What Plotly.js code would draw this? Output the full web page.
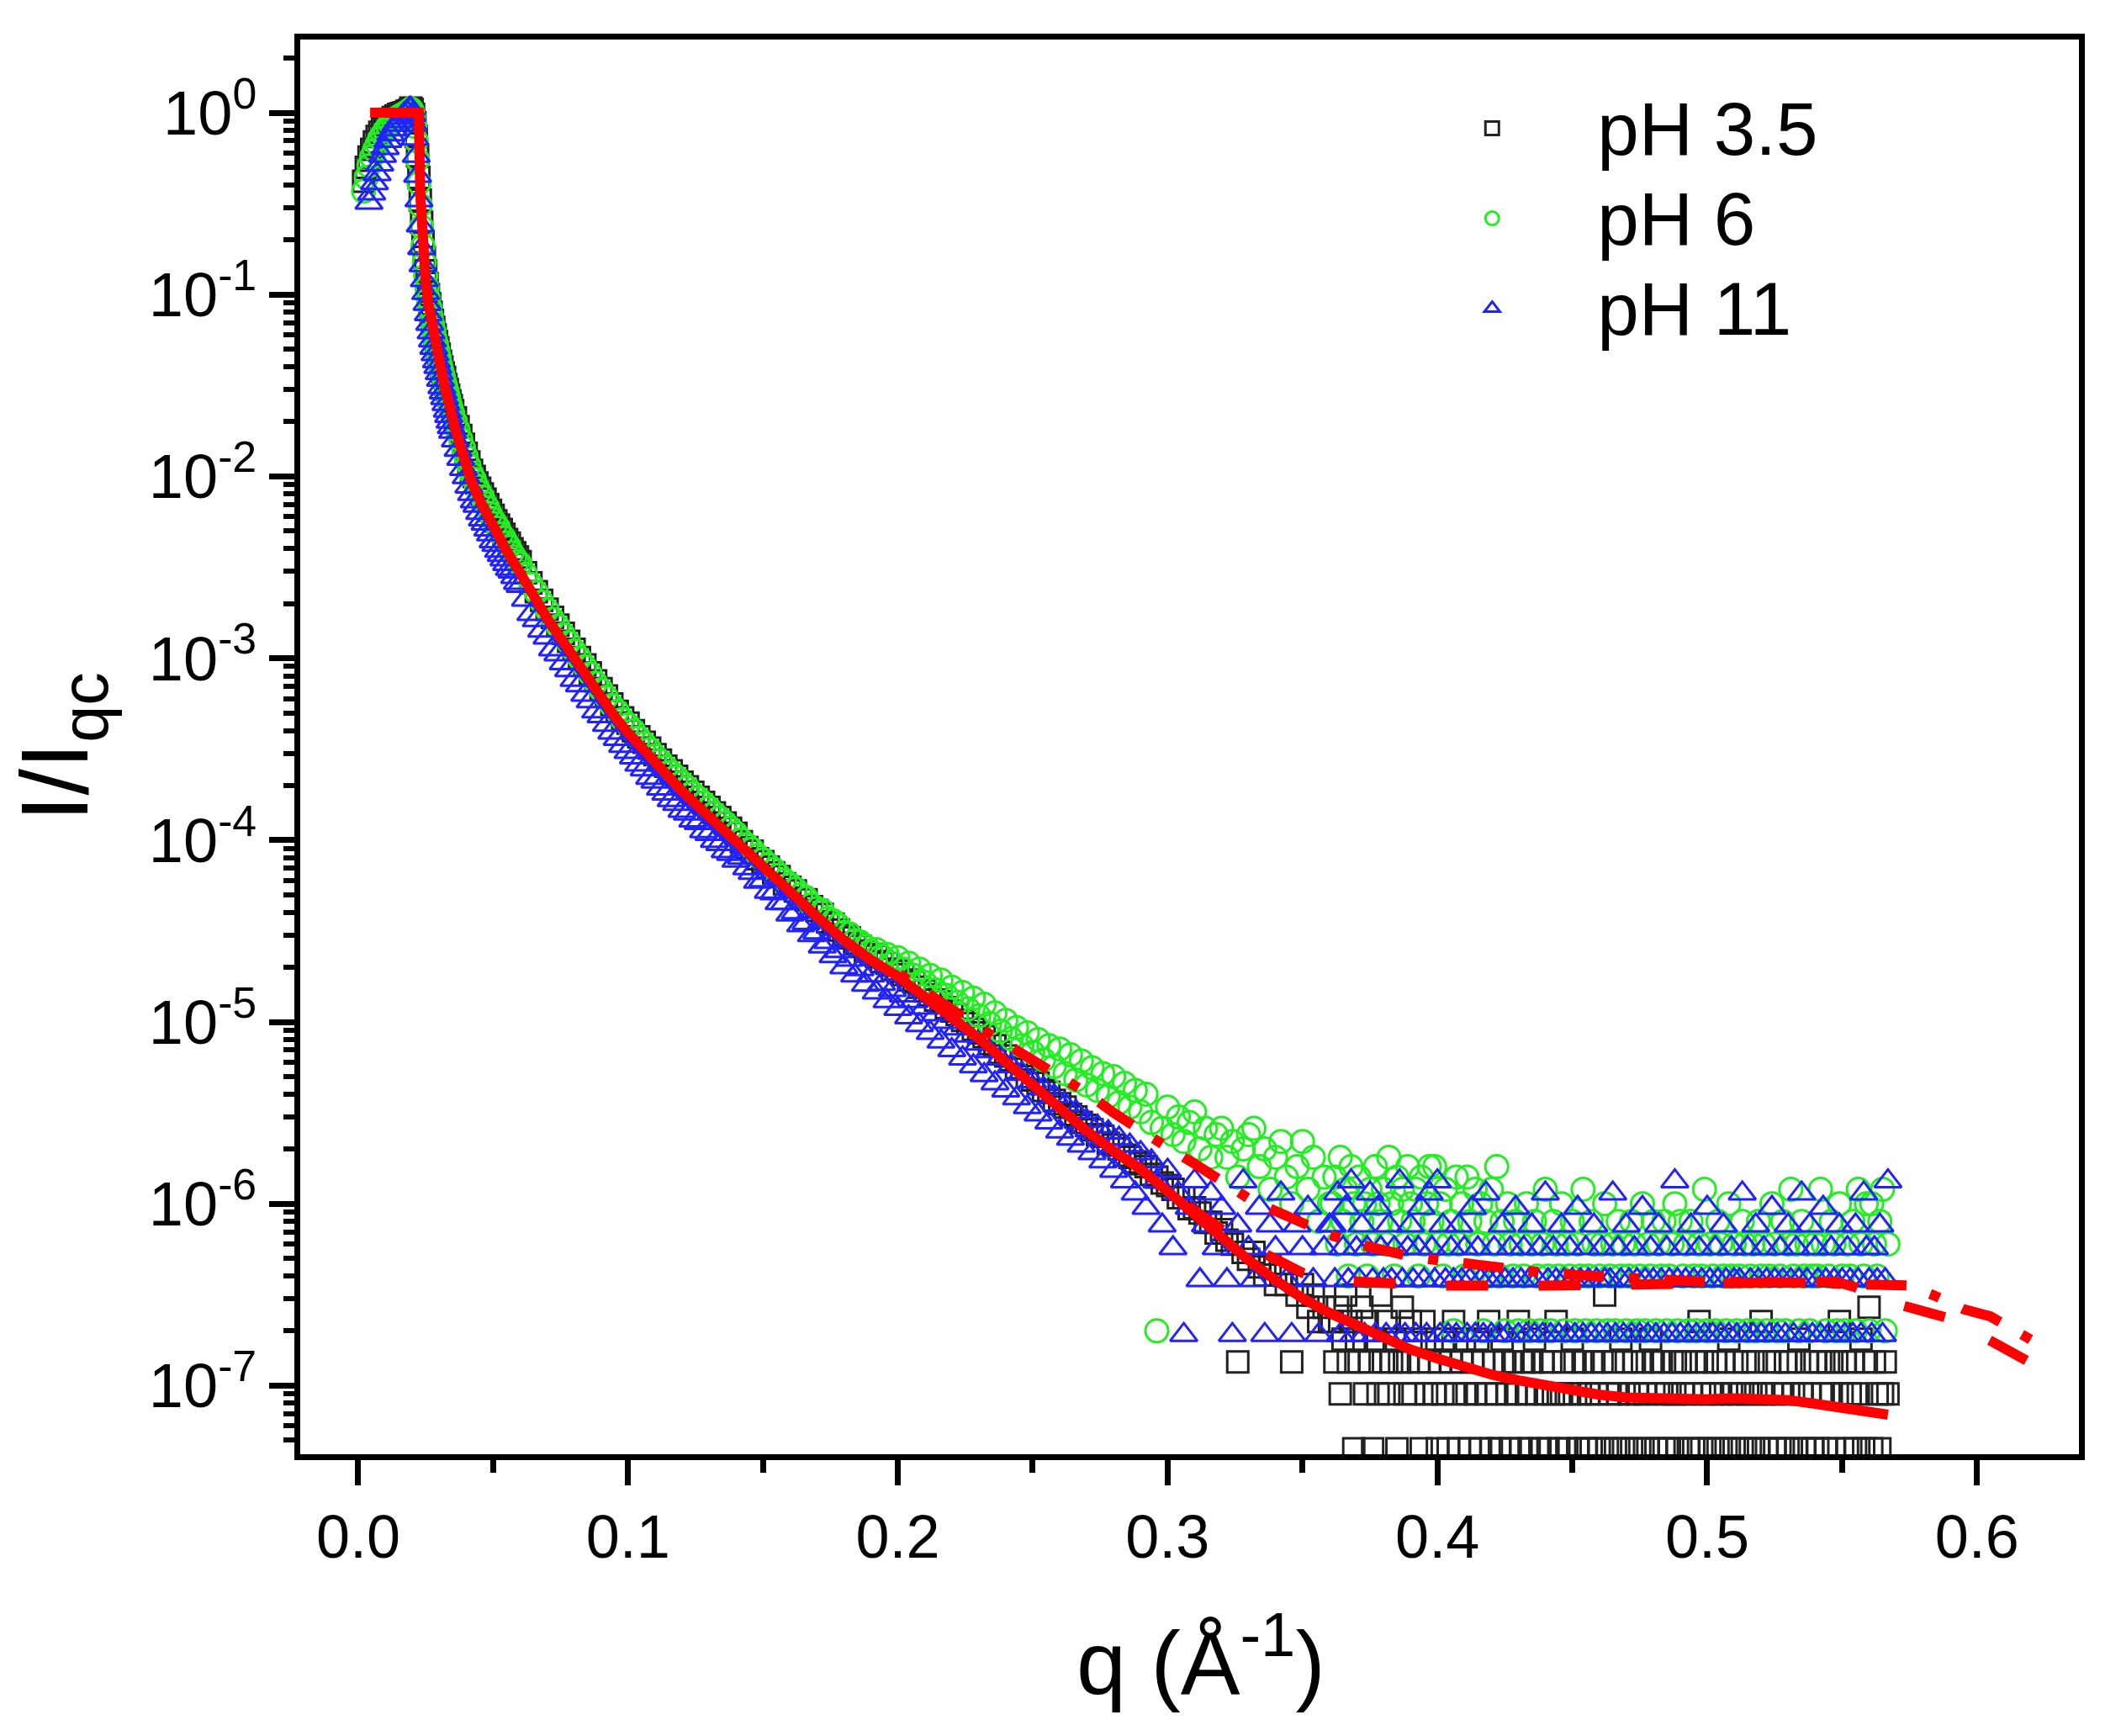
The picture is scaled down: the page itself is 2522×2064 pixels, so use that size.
<!DOCTYPE html>
<html>
<head>
<meta charset="utf-8">
<script src="https://cdn.plot.ly/plotly-3.0.1.min.js"></script>
<style>
  html, body { margin: 0; padding: 0; background: #fff; }
  #plot { width: 2522px; height: 2064px; }
</style>
</head>
<body>
<div id="plot"></div>
<script>
  const FONT = "Arial, 'Liberation Sans', sans-serif";

  // q grid (1/Å)
  const qLow = [0.002,0.003,0.004,0.005,0.006,0.007,0.008,0.009,0.010,0.011,0.012,0.013,0.014,0.015,0.016,0.017,0.018,0.019,
    0.0195,0.020,0.0205,0.021,0.0215,0.022,0.0225,0.023,0.0235,0.024,0.0245,0.025,0.0255,0.026,0.0265,0.027,0.0275,0.028,0.0285,0.029,0.0295,0.030,0.0305,0.031,0.0315,0.032,0.0325,0.033,0.0335,0.034,0.0345,0.035,
    0.036,0.037,0.038,0.039,0.040,0.041,0.042,0.043,0.044,0.045,0.046,0.047,0.048,0.049,0.050,0.051,0.052,0.053,0.054,0.055,0.056,0.057,0.058,0.059,0.060,
    0.062,0.064,0.066,0.068,0.070,0.072,0.074,0.076,0.078,0.080,0.082,0.084,0.086,0.088,0.090,0.092,0.094,0.096,0.098,0.100,
    0.102,0.104,0.106,0.108,0.110,0.112,0.114,0.116,0.118,0.120,0.122,0.124,0.126,0.128,0.130,0.132,0.134,0.136,0.138,0.140];
  const qMid = [0.142,0.144,0.146,0.148,0.150,0.152,0.154,0.156,0.158,0.160,
    0.162,0.164,0.166,0.168,0.170,0.172,0.174,0.176,0.178,0.180,
    0.182,0.184,0.186,0.188,0.190,0.192,0.194,0.196,0.198,0.200,
    0.202,0.204,0.206,0.208,0.210,0.212,0.214,0.216,0.218,0.220,
    0.222,0.224,0.226,0.228,0.230,0.232,0.234,0.236,0.238,0.240,
    0.242,0.244,0.246,0.248,0.250,0.252,0.254,0.256,0.258,0.260,
    0.262,0.264,0.266,0.268,0.270,0.272,0.274,0.276,0.278,0.280,
    0.282,0.284,0.286,0.288,0.290,0.292,0.294,0.296,0.298,0.300,
    0.302,0.304,0.306,0.308,0.310,0.312,0.314,0.316,0.318,0.320,
    0.322,0.324,0.326,0.328,0.330,0.332,0.334,0.336,0.338,0.340,
    0.342,0.344,0.346,0.348,0.350,0.352,0.354,0.356,0.358,0.360];
  const qTail = [0.361,0.362,0.363,0.364,0.365,0.366,0.367,0.368,0.369,0.370,
    0.371,0.372,0.373,0.374,0.375,0.376,0.377,0.378,0.379,0.380,
    0.381,0.382,0.383,0.384,0.385,0.386,0.387,0.388,0.389,0.390,
    0.391,0.392,0.393,0.394,0.395,0.396,0.397,0.398,0.399,0.400,
    0.401,0.402,0.403,0.404,0.405,0.406,0.407,0.408,0.409,0.410,
    0.411,0.412,0.413,0.414,0.415,0.416,0.417,0.418,0.419,0.420,
    0.421,0.422,0.423,0.424,0.425,0.426,0.427,0.428,0.429,0.430,
    0.431,0.432,0.433,0.434,0.435,0.436,0.437,0.438,0.439,0.440,
    0.441,0.442,0.443,0.444,0.445,0.446,0.447,0.448,0.449,0.450,
    0.451,0.452,0.453,0.454,0.455,0.456,0.457,0.458,0.459,0.460,
    0.461,0.462,0.463,0.464,0.465,0.466,0.467,0.468,0.469,0.470,
    0.471,0.472,0.473,0.474,0.475,0.476,0.477,0.478,0.479,0.480,
    0.481,0.482,0.483,0.484,0.485,0.486,0.487,0.488,0.489,0.490,
    0.491,0.492,0.493,0.494,0.495,0.496,0.497,0.498,0.499,0.500,
    0.501,0.502,0.503,0.504,0.505,0.506,0.507,0.508,0.509,0.510,
    0.511,0.512,0.513,0.514,0.515,0.516,0.517,0.518,0.519,0.520,
    0.521,0.522,0.523,0.524,0.525,0.526,0.527,0.528,0.529,0.530,
    0.531,0.532,0.533,0.534,0.535,0.536,0.537,0.538,0.539,0.540,
    0.541,0.542,0.543,0.544,0.545,0.546,0.547,0.548,0.549,0.550,
    0.551,0.552,0.553,0.554,0.555,0.556,0.557,0.558,0.559,0.560,
    0.561,0.562,0.563,0.564,0.565,0.566,0.567];

  // pH 3.5 (black squares)
  const ph35Low = [0.42,0.50,0.57,0.63,0.69,0.74,0.78,0.82,0.86,0.89,0.92,0.94,0.96,0.98,0.99,1.0,1.02,1.03,
    1.06,1.04,0.98,0.88,0.74,0.58,0.44,0.33,0.25,0.195,0.16,0.135,0.115,0.10,0.089,0.080,0.072,0.066,0.060,0.055,0.051,0.047,0.043,0.040,0.037,0.035,0.032,0.030,0.028,0.026,0.0245,0.023,
    0.021,0.0188,0.0168,0.0150,0.0134,0.0120,0.0108,0.0100,0.0092,0.0086,0.0080,0.0075,0.0070,0.0065,0.0061,0.0057,0.0054,0.0051,0.0048,0.0045,0.0043,0.0040,0.0038,0.0036,0.0034,
    2.95e-3,2.60e-3,2.32e-3,2.08e-3,1.86e-3,1.68e-3,1.52e-3,1.37e-3,1.24e-3,1.12e-3,1.01e-3,9.2e-4,8.3e-4,7.5e-4,6.8e-4,6.2e-4,5.6e-4,5.1e-4,4.7e-4,4.4e-4,
    4.0e-4,3.7e-4,3.45e-4,3.2e-4,2.95e-4,2.75e-4,2.55e-4,2.4e-4,2.24e-4,2.08e-4,1.96e-4,1.83e-4,1.72e-4,1.61e-4,1.51e-4,1.41e-4,1.33e-4,1.24e-4,1.16e-4,1.09e-4];
  const ph35Mid = [9.8e-5,9.1e-5,8.7e-5,7.9e-5,7.6e-5,7.1e-5,6.6e-5,6.3e-5,5.75e-5,5.5e-5,
    5.25e-5,4.8e-5,4.7e-5,4.3e-5,4.1e-5,3.9e-5,3.55e-5,3.45e-5,3.2e-5,3.0e-5,
    2.9e-5,2.7e-5,2.6e-5,2.45e-5,2.35e-5,2.3e-5,2.15e-5,2.1e-5,1.95e-5,1.9e-5,
    1.82e-5,1.7e-5,1.66e-5,1.55e-5,1.48e-5,1.41e-5,1.32e-5,1.29e-5,1.2e-5,1.15e-5,
    1.1e-5,1.02e-5,9.8e-6,9.1e-6,8.7e-6,8.3e-6,7.6e-6,7.4e-6,6.8e-6,6.5e-6,
    6.2e-6,5.6e-6,5.5e-6,5.0e-6,4.8e-6,4.6e-6,4.2e-6,4.1e-6,3.7e-6,3.55e-6,
    3.4e-6,3.1e-6,3.0e-6,2.8e-6,2.7e-6,2.55e-6,2.4e-6,2.35e-6,2.15e-6,2.1e-6,
    2.0e-6,1.85e-6,1.8e-6,1.7e-6,1.66e-6,1.6e-6,1.45e-6,1.4e-6,1.3e-6,1.26e-6,
    1.2e-6,1.08e-6,1.08e-6,9.4e-7,9.5e-7,8.9e-7,7.9e-7,7.9e-7,6.9e-7,7.2e-7,
    6.3e-7,6.0e-7,1.35e-7,5.4e-7,4.95e-7,5.4e-7,4.5e-7,4.05e-7,4.5e-7,3.6e-7,
    4.05e-7,3.6e-7,1.35e-7,3.15e-7,3.6e-7,2.7e-7,3.15e-7,2.25e-7,2.7e-7,2.25e-7];
  const ph35Tail = [2.25e-7,1.35e-7,2.7e-7,9e-8,1.8e-7,3.15e-7,1.35e-7,2.25e-7,4.5e-8,1.8e-7,
    1.35e-7,2.7e-7,9e-8,2.25e-7,1.35e-7,4.5e-8,1.8e-7,9e-8,3.15e-7,1.35e-7,
    2.25e-7,9e-8,1.35e-7,1.8e-7,4.5e-8,1.35e-7,2.7e-7,9e-8,1.35e-7,2.25e-7,
    9e-8,1.8e-7,1.35e-7,4.5e-8,2.25e-7,9e-8,1.35e-7,1.8e-7,9e-8,4.5e-8,
    1.35e-7,9e-8,1.8e-7,4.5e-8,1.35e-7,2.25e-7,9e-8,4.5e-8,1.35e-7,1.8e-7,
    9e-8,4.5e-8,1.35e-7,9e-8,1.8e-7,4.5e-8,1.35e-7,9e-8,2.25e-7,4.5e-8,
    1.35e-7,9e-8,4.5e-8,1.8e-7,1.35e-7,9e-8,4.5e-8,1.35e-7,9e-8,2.25e-7,
    4.5e-8,1.35e-7,9e-8,4.5e-8,1.35e-7,1.8e-7,9e-8,4.5e-8,1.35e-7,9e-8,
    4.5e-8,1.35e-7,9e-8,2.25e-7,4.5e-8,9e-8,1.35e-7,4.5e-8,9e-8,1.8e-7,
    1.35e-7,4.5e-8,9e-8,1.35e-7,4.5e-8,9e-8,4.5e-8,1.35e-7,9e-8,4.5e-8,
    1.35e-7,3.15e-7,4.5e-8,9e-8,1.35e-7,4.5e-8,9e-8,1.8e-7,4.5e-8,1.35e-7,
    9e-8,4.5e-8,1.35e-7,9e-8,4.5e-8,1.35e-7,9e-8,4.5e-8,1.8e-7,1.35e-7,
    4.5e-8,9e-8,1.35e-7,4.5e-8,9e-8,4.5e-8,1.35e-7,9e-8,4.5e-8,1.35e-7,
    9e-8,1.35e-7,4.5e-8,9e-8,4.5e-8,1.35e-7,2.25e-7,4.5e-8,9e-8,1.35e-7,
    4.5e-8,9e-8,1.35e-7,4.5e-8,9e-8,1.35e-7,4.5e-8,1.8e-7,9e-8,4.5e-8,
    1.35e-7,9e-8,4.5e-8,1.35e-7,9e-8,4.5e-8,1.35e-7,9e-8,4.5e-8,2.25e-7,
    9e-8,4.5e-8,1.35e-7,9e-8,4.5e-8,1.35e-7,4.5e-8,9e-8,1.35e-7,4.5e-8,
    1.35e-7,9e-8,4.5e-8,1.8e-7,9e-8,4.5e-8,1.35e-7,9e-8,4.5e-8,1.35e-7,
    4.5e-8,1.35e-7,9e-8,4.5e-8,1.35e-7,9e-8,4.5e-8,1.35e-7,2.25e-7,9e-8,
    1.35e-7,4.5e-8,9e-8,1.35e-7,4.5e-8,9e-8,1.8e-7,4.5e-8,1.35e-7,2.7e-7,
    4.5e-8,1.35e-7,9e-8,4.5e-8,9e-8,1.35e-7,9e-8];

  // pH 6 (green circles)
  const ph6Low = [0.37,0.44,0.51,0.57,0.62,0.67,0.72,0.76,0.80,0.84,0.87,0.90,0.93,0.95,0.97,0.99,1.01,1.03,
    1.05,1.02,0.95,0.84,0.70,0.55,0.41,0.31,0.235,0.185,0.15,0.127,0.109,0.095,0.085,0.076,0.069,0.063,0.057,0.053,0.049,0.045,0.041,0.038,0.0355,0.033,0.031,0.029,0.027,0.025,0.0235,0.022,
    0.020,0.018,0.0160,0.0143,0.0128,0.0115,0.0103,0.0096,0.0088,0.0082,0.0077,0.0071,0.0067,0.0062,0.0058,0.0055,0.0052,0.0048,0.0046,0.0043,0.0041,0.0038,0.0036,0.0034,0.0033,
    2.90e-3,2.55e-3,2.30e-3,2.04e-3,1.84e-3,1.64e-3,1.50e-3,1.35e-3,1.22e-3,1.10e-3,1.00e-3,9.0e-4,8.2e-4,7.3e-4,6.7e-4,6.1e-4,5.5e-4,5.1e-4,4.6e-4,4.3e-4,
    4.0e-4,3.65e-4,3.4e-4,3.15e-4,2.9e-4,2.72e-4,2.52e-4,2.36e-4,2.22e-4,2.06e-4,1.94e-4,1.80e-4,1.70e-4,1.60e-4,1.50e-4,1.40e-4,1.32e-4,1.24e-4,1.16e-4,1.09e-4];
  const ph6Mid = [1.0e-4,9.4e-5,8.9e-5,8.2e-5,7.8e-5,7.3e-5,6.9e-5,6.4e-5,6.0e-5,5.7e-5,
    5.4e-5,5.0e-5,4.8e-5,4.4e-5,4.2e-5,4.1e-5,3.7e-5,3.6e-5,3.4e-5,3.1e-5,
    3.05e-5,2.8e-5,2.75e-5,2.6e-5,2.45e-5,2.5e-5,2.3e-5,2.35e-5,2.1e-5,2.25e-5,
    1.95e-5,2.1e-5,1.8e-5,1.95e-5,1.65e-5,1.8e-5,1.5e-5,1.7e-5,1.4e-5,1.55e-5,
    1.28e-5,1.45e-5,1.18e-5,1.35e-5,1.08e-5,1.25e-5,9.8e-6,1.12e-5,8.9e-6,1.02e-5,
    8.1e-6,9.3e-6,7.4e-6,8.7e-6,6.8e-6,8.0e-6,6.2e-6,7.4e-6,5.7e-6,7.1e-6,
    5.2e-6,6.6e-6,4.8e-6,6.1e-6,4.5e-6,5.6e-6,4.2e-6,5.2e-6,3.9e-6,5.0e-6,
    3.6e-6,4.6e-6,3.4e-6,4.2e-6,3.2e-6,4.0e-6,2.8e-6,2.0e-7,2.6e-6,3.4e-6,
    2.4e-6,3.0e-6,2.2e-6,2.8e-6,3.2e-6,2.0e-6,2.6e-6,1.8e-6,2.4e-6,2.6e-6,
    1.8e-6,2.2e-6,1.4e-6,2.0e-6,2.4e-6,2.6e-6,1.6e-6,2.0e-6,1.2e-6,1.8e-6,
    2.2e-6,1.4e-6,1.0e-6,1.6e-6,2.2e-6,1.2e-6,1.8e-6,8.0e-7,1.4e-6,1.0e-6];
  const ph6Tail = [1e-6,1.4e-6,6e-7,1.8e-6,8e-7,1.2e-6,4e-7,1.6e-6,1e-6,6e-7,
    1.4e-6,8e-7,1e-6,4e-7,1.2e-6,6e-7,1.6e-6,1e-6,8e-7,1.2e-6,
    6e-7,1.8e-6,1e-6,4e-7,1.4e-6,8e-7,1.2e-6,6e-7,1.6e-6,1e-6,
    8e-7,1.2e-6,4e-7,1.4e-6,6e-7,1e-6,1.6e-6,8e-7,1.6e-6,6e-7,
    1e-6,4e-7,1.2e-6,6e-7,8e-7,2e-7,1.4e-6,6e-7,1e-6,4e-7,
    1.4e-6,8e-7,4e-7,1.2e-6,6e-7,1e-6,2e-7,8e-7,4e-7,1.2e-6,
    6e-7,1.6e-6,4e-7,8e-7,2e-7,1e-6,6e-7,4e-7,8e-7,2e-7,
    6e-7,4e-7,1e-6,2e-7,6e-7,8e-7,4e-7,2e-7,6e-7,1.2e-6,
    4e-7,2e-7,8e-7,6e-7,4e-7,1e-6,2e-7,6e-7,4e-7,8e-7,
    2e-7,6e-7,4e-7,1.2e-6,2e-7,4e-7,8e-7,6e-7,2e-7,4e-7,
    6e-7,1e-6,2e-7,4e-7,6e-7,2e-7,8e-7,4e-7,6e-7,2e-7,
    4e-7,8e-7,6e-7,2e-7,4e-7,1e-6,2e-7,6e-7,4e-7,8e-7,
    2e-7,6e-7,4e-7,8e-7,2e-7,4e-7,6e-7,1e-6,2e-7,8e-7,
    4e-7,6e-7,2e-7,8e-7,4e-7,2e-7,6e-7,4e-7,1.2e-6,2e-7,
    6e-7,4e-7,2e-7,8e-7,6e-7,4e-7,2e-7,1e-6,4e-7,6e-7,
    2e-7,4e-7,8e-7,6e-7,2e-7,4e-7,6e-7,2e-7,8e-7,4e-7,
    6e-7,2e-7,4e-7,1e-6,6e-7,2e-7,4e-7,8e-7,2e-7,6e-7,
    1.2e-6,4e-7,6e-7,2e-7,8e-7,4e-7,6e-7,2e-7,4e-7,6e-7,
    4e-7,1.2e-6,6e-7,2e-7,4e-7,8e-7,6e-7,2e-7,1e-6,4e-7,
    2e-7,6e-7,4e-7,8e-7,2e-7,1.2e-6,6e-7,4e-7,1e-6,2e-7,
    1e-6,6e-7,4e-7,8e-7,1.2e-6,2e-7,6e-7];

  // pH 11 (blue triangles)
  const ph11Low = [null,null,0.32,0.36,0.41,0.46,0.52,0.58,0.64,0.70,0.76,0.81,0.86,0.90,0.94,0.98,1.01,1.05,
    1.05,0.97,0.86,0.72,0.58,0.45,0.33,0.24,0.18,0.145,0.12,0.102,0.089,0.078,0.069,0.062,0.056,0.051,0.047,0.043,0.040,0.037,0.034,0.031,0.029,0.027,0.025,0.023,0.0215,0.020,0.0187,0.0176,
    0.0158,0.0140,0.0125,0.0110,0.0099,0.0088,0.0080,0.0073,0.0069,0.0063,0.0058,0.0055,0.0051,0.0048,0.0044,0.0042,0.0039,0.0037,0.0035,0.0033,0.0031,0.0030,0.0028,0.0026,0.0025,
    2.10e-3,1.75e-3,1.62e-3,1.42e-3,1.30e-3,1.12e-3,1.05e-3,9.4e-4,8.6e-4,7.6e-4,7.1e-4,6.3e-4,5.8e-4,5.1e-4,4.8e-4,4.3e-4,3.9e-4,3.6e-4,3.3e-4,3.05e-4,
    2.85e-4,2.6e-4,2.45e-4,2.2e-4,2.1e-4,1.92e-4,1.80e-4,1.66e-4,1.58e-4,1.45e-4,1.40e-4,1.28e-4,1.24e-4,1.12e-4,1.08e-4,9.9e-5,9.5e-5,8.7e-5,8.4e-5,7.7e-5];
  const ph11Mid = [8.0e-5,7.0e-5,6.6e-5,5.9e-5,6.0e-5,5.2e-5,5.1e-5,4.5e-5,4.5e-5,3.9e-5,
    4.0e-5,3.4e-5,3.5e-5,3.0e-5,3.1e-5,2.6e-5,2.75e-5,2.3e-5,2.45e-5,2.0e-5,
    2.2e-5,1.8e-5,1.95e-5,1.6e-5,1.8e-5,1.45e-5,1.62e-5,1.3e-5,1.5e-5,1.18e-5,
    1.4e-5,1.06e-5,1.3e-5,9.6e-6,1.2e-5,8.7e-6,1.1e-5,7.8e-6,1.0e-5,7.0e-6,
    9.2e-6,6.3e-6,8.4e-6,5.7e-6,7.6e-6,5.1e-6,6.9e-6,4.6e-6,6.3e-6,4.2e-6,
    5.7e-6,3.8e-6,5.2e-6,3.4e-6,4.7e-6,3.1e-6,4.3e-6,2.8e-6,3.9e-6,2.5e-6,
    3.5e-6,2.28e-6,3.2e-6,2.09e-6,2.85e-6,1.9e-6,2.66e-6,1.71e-6,2.47e-6,1.52e-6,
    2.28e-6,1.33e-6,2.09e-6,1.14e-6,1.9e-6,9.5e-7,1.71e-6,1.33e-6,7.6e-7,1.52e-6,
    5.7e-7,1.14e-6,1.9e-7,9.5e-7,1.33e-6,3.8e-7,7.6e-7,1.14e-6,5.7e-7,9.5e-7,
    3.8e-7,1.9e-7,7.6e-7,1.33e-6,5.7e-7,3.8e-7,9.5e-7,1.9e-7,7.6e-7,5.7e-7,
    1.14e-6,3.8e-7,1.9e-7,7.6e-7,5.7e-7,9.5e-7,3.8e-7,1.9e-7,5.7e-7,7.6e-7];
  const ph11Tail = [7.6e-7,3.8e-7,1.14e-6,1.9e-7,5.7e-7,9.5e-7,3.8e-7,1.33e-6,1.9e-7,5.7e-7,
    3.8e-7,7.6e-7,1.9e-7,5.7e-7,1.14e-6,3.8e-7,1.9e-7,9.5e-7,5.7e-7,3.8e-7,
    1.9e-7,7.6e-7,3.8e-7,5.7e-7,1.9e-7,1.33e-6,3.8e-7,1.9e-7,5.7e-7,7.6e-7,
    3.8e-7,1.9e-7,5.7e-7,9.5e-7,3.8e-7,1.9e-7,1.14e-6,5.7e-7,3.8e-7,1.33e-6,
    1.9e-7,7.6e-7,3.8e-7,1.9e-7,5.7e-7,3.8e-7,1.9e-7,7.6e-7,3.8e-7,5.7e-7,
    1.9e-7,3.8e-7,9.5e-7,1.9e-7,5.7e-7,3.8e-7,1.9e-7,1.14e-6,3.8e-7,1.9e-7,
    5.7e-7,3.8e-7,1.9e-7,7.6e-7,3.8e-7,1.9e-7,5.7e-7,3.8e-7,9.5e-7,1.9e-7,
    3.8e-7,5.7e-7,1.9e-7,3.8e-7,7.6e-7,1.9e-7,3.8e-7,5.7e-7,1.9e-7,1.14e-6,
    3.8e-7,1.9e-7,5.7e-7,3.8e-7,1.9e-7,7.6e-7,3.8e-7,1.9e-7,5.7e-7,3.8e-7,
    1.9e-7,9.5e-7,3.8e-7,1.9e-7,5.7e-7,3.8e-7,1.9e-7,7.6e-7,3.8e-7,1.9e-7,
    5.7e-7,3.8e-7,1.9e-7,3.8e-7,1.14e-6,1.9e-7,5.7e-7,3.8e-7,1.9e-7,7.6e-7,
    3.8e-7,1.9e-7,5.7e-7,3.8e-7,1.9e-7,9.5e-7,3.8e-7,1.9e-7,5.7e-7,3.8e-7,
    1.9e-7,7.6e-7,3.8e-7,1.9e-7,5.7e-7,3.8e-7,1.9e-7,1.33e-6,3.8e-7,1.9e-7,
    5.7e-7,3.8e-7,1.9e-7,7.6e-7,3.8e-7,1.9e-7,5.7e-7,3.8e-7,1.9e-7,9.5e-7,
    3.8e-7,1.9e-7,5.7e-7,3.8e-7,1.9e-7,7.6e-7,3.8e-7,1.9e-7,5.7e-7,3.8e-7,
    1.9e-7,3.8e-7,1.14e-6,1.9e-7,5.7e-7,3.8e-7,1.9e-7,7.6e-7,3.8e-7,1.9e-7,
    5.7e-7,3.8e-7,1.9e-7,9.5e-7,3.8e-7,1.9e-7,5.7e-7,3.8e-7,1.9e-7,7.6e-7,
    3.8e-7,1.9e-7,5.7e-7,3.8e-7,1.14e-6,1.9e-7,3.8e-7,7.6e-7,1.9e-7,5.7e-7,
    3.8e-7,1.9e-7,9.5e-7,3.8e-7,1.9e-7,5.7e-7,3.8e-7,1.9e-7,7.6e-7,3.8e-7,
    1.9e-7,5.7e-7,3.8e-7,1.9e-7,7.6e-7,3.8e-7,1.9e-7,1.14e-6,5.7e-7,3.8e-7,
    1.9e-7,5.7e-7,3.8e-7,7.6e-7,1.9e-7,3.8e-7,1.33e-6];

  // fitted curves (red)
  const fitQ35 = [0.0044,0.0224,0.023,0.0235,0.024,0.025,0.026,0.027,0.028,0.029,0.030,0.031,0.032,0.033,0.034,0.035,0.036,0.038,0.040,0.042,0.045,0.048,0.050,
    0.055,0.060,0.065,0.070,0.075,0.080,0.085,0.090,0.095,0.100,
    0.110,0.120,0.130,0.140,0.150,0.160,0.170,0.180,0.190,0.200,0.210,0.220,0.230,0.240,0.250,0.260,0.270,0.280,0.290,0.300,
    0.310,0.320,0.330,0.340,0.350,0.360,0.370,0.380,0.390,0.400,0.410,0.420,0.430,0.440,0.450,0.460,0.470,0.480,0.490,0.500,
    0.510,0.520,0.530,0.540,0.550,0.560,0.567];
  const fit35 = [1.0,1.0,0.355,0.224,0.166,0.117,0.0891,0.0724,0.0603,0.0513,0.0437,0.0372,0.0316,0.0269,0.0229,0.0204,0.0182,0.0145,0.0115,0.00933,0.00741,0.00603,0.00525,
    0.00389,0.00295,0.00219,0.00166,0.00129,0.00100,7.76e-4,6.03e-4,4.79e-4,3.89e-4,
    2.63e-4,1.86e-4,1.35e-4,9.77e-5,7.08e-5,5.13e-5,3.80e-5,2.82e-5,2.19e-5,1.78e-5,1.38e-5,1.07e-5,8.13e-6,6.03e-6,4.47e-6,3.31e-6,2.51e-6,1.95e-6,1.55e-6,1.17e-6,
    8.71e-7,6.46e-7,4.90e-7,3.80e-7,3.02e-7,2.51e-7,2.14e-7,1.82e-7,1.58e-7,1.41e-7,1.26e-7,1.15e-7,1.07e-7,1.00e-7,9.33e-8,8.91e-8,8.61e-8,8.51e-8,8.41e-8,8.41e-8,
    8.51e-8,8.51e-8,8.32e-8,7.94e-8,7.59e-8,7.24e-8,6.92e-8];
  const fitQ6 = [0.180,0.190,0.200,0.210,0.220,0.230,0.240,0.250,0.260,0.270,0.280,0.290,0.300,0.310,0.320,0.330,0.340,0.350,0.360,0.370,0.380,0.390,0.400,
    0.420,0.440,0.460,0.480,0.500,0.520,0.540,0.560,0.575,0.585,0.595,0.605,0.615,0.625];
  const fit6 = [2.82e-5,2.19e-5,1.86e-5,1.45e-5,1.17e-5,9.33e-6,7.59e-6,6.17e-6,5.01e-6,4.07e-6,3.16e-6,2.51e-6,2.04e-6,1.66e-6,1.32e-6,1.07e-6,9.12e-7,7.76e-7,6.76e-7,6.03e-7,5.50e-7,5.13e-7,4.90e-7,
    4.47e-7,4.17e-7,3.98e-7,3.80e-7,3.72e-7,3.72e-7,3.63e-7,3.63e-7,3.55e-7,3.09e-7,2.63e-7,2.40e-7,2.00e-7,1.62e-7];
  const fitQ11 = [0.280,0.290,0.300,0.310,0.320,0.330,0.340,0.350,0.360,0.380,0.400,0.440,0.480,0.520,0.548,0.555,0.570,0.590,0.605,0.623];
  const fit11 = [1.95e-6,1.55e-6,1.17e-6,9.12e-7,7.24e-7,5.89e-7,4.90e-7,4.17e-7,3.80e-7,3.72e-7,3.55e-7,3.55e-7,3.63e-7,3.72e-7,3.72e-7,3.47e-7,2.82e-7,2.34e-7,1.78e-7,1.26e-7];

  const seriesNames = ["pH 3.5", "pH 6", "pH 11"];
  const xTickVals = [0, 0.1, 0.2, 0.3, 0.4, 0.5, 0.6];
  const xTickText = ["0.0", "0.1", "0.2", "0.3", "0.4", "0.5", "0.6"];
  const yTickVals = [1e-7, 1e-6, 1e-5, 1e-4, 1e-3, 1e-2, 1e-1, 1];
  const yTickText = ["10<sup>-7</sup>", "10<sup>-6</sup>", "10<sup>-5</sup>", "10<sup>-4</sup>",
    "10<sup>-3</sup>", "10<sup>-2</sup>", "10<sup>-1</sup>", "10<sup>0</sup>"];

  const qAll = qLow.concat(qMid, qTail);

  function dataTrace(name, y, symbol, color, size) {
    if (y.length !== qAll.length) console.warn(name, "length mismatch", y.length, qAll.length);
    return {
      type: "scatter",
      mode: "markers",
      // bigger legend text than the font used for row spacing
      name: '<span style="font-size:89px">' + name + "</span>",
      x: qAll,
      y: y,
      marker: { symbol: symbol, size: size, color: color, line: { color: color, width: 3 } },
      hoverinfo: "skip"
    };
  }

  function fitTrace(x, y, dash) {
    return {
      type: "scatter",
      mode: "lines",
      x: x,
      y: y,
      line: { color: "#ff0000", width: 12, dash: dash },
      showlegend: false,
      hoverinfo: "skip"
    };
  }

  const traces = [
    dataTrace(seriesNames[0], ph35Low.concat(ph35Mid, ph35Tail), "square-open", "#222222", 25),
    dataTrace(seriesNames[1], ph6Low.concat(ph6Mid, ph6Tail), "circle-open", "#22ee22", 27),
    dataTrace(seriesNames[2], ph11Low.concat(ph11Mid, ph11Tail), "triangle-up-open", "#2222ff", 28),
    fitTrace(fitQ6, fit6, "48px,30px,12px,30px"),
    fitTrace(fitQ11, fit11, "50px,60px"),
    fitTrace(fitQ35, fit35, "solid")
  ];

  // minor tick positions on the log axis: 2..9 in each decade
  const yMinor = [];
  for (let e = -8; e <= 0; e++) {
    for (let m = 2; m <= 9; m++) yMinor.push(m * Math.pow(10, e));
  }

  const layout = {
    width: 2522,
    height: 2064,
    margin: { l: 357, r: 50, t: 47, b: 335 },
    paper_bgcolor: "#ffffff",
    plot_bgcolor: "#ffffff",
    font: { family: FONT, color: "#000000" },
    showlegend: true,
    legend: {
      x: 0.611, y: 0.972, xanchor: "left", yanchor: "top",
      font: { family: FONT, size: 80, color: "#000000" },
      itemwidth: 240,
      bgcolor: "rgba(0,0,0,0)",
      borderwidth: 0
    },
    xaxis: {
      range: [-0.0215, 0.6378],
      tickmode: "array",
      tickvals: xTickVals,
      ticktext: xTickText,
      ticks: "outside",
      ticklen: 30,
      tickwidth: 7,
      tickcolor: "#000000",
      tickfont: { family: FONT, size: 72, color: "#000000" },
      minor: { tickvals: [0.05, 0.15, 0.25, 0.35, 0.45, 0.55], ticks: "outside", ticklen: 15, tickwidth: 7, tickcolor: "#000000" },
      showline: true,
      linewidth: 7,
      linecolor: "#000000",
      mirror: true,
      showgrid: false,
      zeroline: false
    },
    yaxis: {
      type: "log",
      range: [-7.3774, 0.4024],
      tickmode: "array",
      tickvals: yTickVals,
      ticktext: yTickText,
      ticks: "outside",
      ticklen: 30,
      tickwidth: 7,
      tickcolor: "#000000",
      tickfont: { family: FONT, size: 74, color: "#000000" },
      minor: { tickvals: yMinor, ticks: "outside", ticklen: 13, tickwidth: 6, tickcolor: "#000000" },
      showline: true,
      linewidth: 7,
      linecolor: "#000000",
      mirror: true,
      showgrid: false,
      zeroline: false
    },
    annotations: [
      {
        text: "I/I<sub>qc</sub>",
        xref: "paper", yref: "paper",
        x: -0.1343, y: 0.5,
        xanchor: "center", yanchor: "middle",
        textangle: -90,
        showarrow: false,
        font: { family: FONT, size: 113, color: "#000000" }
      },
      {
        text: "q (Å<sup>-1</sup>)",
        xref: "paper", yref: "paper",
        x: 0.5064, y: -0.1427,
        xanchor: "center", yanchor: "middle",
        showarrow: false,
        font: { family: FONT, size: 106, color: "#000000" }
      }
    ]
  };

  Plotly.newPlot("plot", traces, layout, { staticPlot: true, displayModeBar: false });
</script>
</body>
</html>
